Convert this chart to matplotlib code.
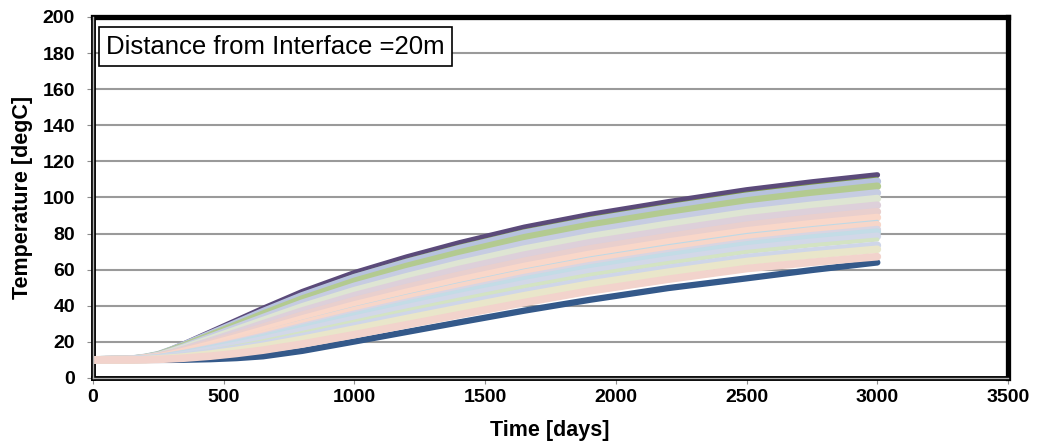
import matplotlib.pyplot as plt
import numpy as np

plt.rcParams['font.family'] = ['Liberation Sans', 'DejaVu Sans']

# time axis shared by every run [days]
days = [0, 150, 200, 250, 300, 350, 450, 550, 650, 800, 1000, 1200, 1400, 1650, 1900, 2200, 2500, 2750, 3000]

# temperature runs [degC], top of the band first
run_top = [10, 10.5, 11.5, 13.1, 15.9, 19.0, 25.5, 32.0, 38.5, 47.8, 58.3, 67.0, 74.8, 83.5, 90.5, 97.6, 104.2, 108.6, 112.5]
run_96 = [10, 10.5, 11.4, 13.0, 15.7, 18.7, 25.0, 31.3, 37.6, 46.6, 56.9, 65.5, 73.2, 81.8, 88.8, 95.9, 102.5, 106.8, 110.7]
run_92 = [10, 10.5, 11.4, 12.9, 15.5, 18.4, 24.4, 30.5, 36.7, 45.5, 55.6, 64.0, 71.6, 80.2, 87.1, 94.2, 100.7, 105.0, 108.9]
run_86 = [10, 10.4, 11.3, 12.7, 15.2, 17.9, 23.6, 29.4, 35.3, 43.7, 53.5, 61.8, 69.2, 77.7, 84.6, 91.6, 98.1, 102.4, 106.2]
run_80 = [10, 10.4, 11.2, 12.5, 14.8, 17.4, 22.8, 28.3, 33.9, 42.0, 51.4, 59.5, 66.8, 75.2, 82.0, 89.0, 95.5, 99.7, 103.4]
run_78 = [10, 10.4, 11.2, 12.5, 14.7, 17.2, 22.6, 28.0, 33.4, 41.4, 50.8, 58.8, 66.0, 74.3, 81.2, 88.2, 94.6, 98.8, 102.5]
run_71 = [10, 10.4, 11.1, 12.3, 14.4, 16.7, 21.6, 26.7, 31.8, 39.4, 48.4, 56.1, 63.3, 71.4, 78.2, 85.2, 91.6, 95.7, 99.4]
run_63 = [10, 10.3, 11.0, 12.1, 13.9, 16.0, 20.5, 25.2, 30.0, 37.1, 45.6, 53.1, 60.1, 68.1, 74.9, 81.7, 88.1, 92.1, 95.7]
run_55 = [10, 10.3, 10.9, 11.8, 13.5, 15.4, 19.5, 23.7, 28.1, 34.8, 42.9, 50.1, 56.9, 64.7, 71.5, 78.3, 84.6, 88.6, 92.1]
run_48 = [10, 10.2, 10.8, 11.6, 13.1, 14.8, 18.5, 22.4, 26.5, 32.7, 40.5, 47.5, 54.1, 61.8, 68.5, 75.3, 81.5, 85.5, 88.9]
run_43 = [10, 10.2, 10.7, 11.5, 12.9, 14.4, 17.9, 21.5, 25.3, 31.3, 38.8, 45.6, 52.1, 59.7, 66.4, 73.2, 79.4, 83.2, 86.7]
run_39 = [10, 10.2, 10.7, 11.4, 12.7, 14.1, 17.3, 20.8, 24.4, 30.1, 37.4, 44.1, 50.5, 58.1, 64.7, 71.4, 77.6, 81.5, 84.9]
run_33 = [10, 10.2, 10.6, 11.2, 12.4, 13.6, 16.5, 19.7, 23.0, 28.4, 35.3, 41.9, 48.1, 55.6, 62.2, 68.9, 75.0, 78.8, 82.2]
run_30 = [10, 10.2, 10.5, 11.1, 12.2, 13.4, 16.1, 19.1, 22.3, 27.5, 34.3, 40.8, 46.9, 54.3, 60.9, 67.6, 73.7, 77.5, 80.8]
run_25 = [10, 10.1, 10.5, 11.0, 11.9, 13.0, 15.5, 18.2, 21.2, 26.1, 32.6, 38.9, 45.0, 52.2, 58.8, 65.4, 71.5, 75.2, 78.5]
run_21 = [10, 10.1, 10.4, 10.9, 11.7, 12.7, 14.9, 17.5, 20.3, 24.9, 31.2, 37.4, 43.4, 50.6, 57.1, 63.7, 69.8, 73.5, 76.7]
run_14 = [10, 10.1, 10.3, 10.7, 11.3, 12.1, 14.0, 16.2, 18.6, 22.9, 28.8, 34.8, 40.6, 47.6, 54.1, 60.7, 66.7, 70.3, 73.5]
run_09 = [10, 10.0, 10.2, 10.6, 11.1, 11.7, 13.3, 15.3, 17.5, 21.4, 27.1, 32.9, 38.6, 45.6, 52.0, 58.6, 64.5, 68.1, 71.3]
run_low = [10, 10.0, 10.1, 10.3, 10.6, 11.0, 12.1, 13.6, 15.4, 18.8, 24.0, 29.5, 35.0, 41.8, 48.2, 54.7, 60.6, 64.1, 67.2]
run_base = [10, 10.0, 10.0, 10.0, 10.0, 10.1, 10.4, 11.0, 12.0, 15.0, 20.2, 25.5, 30.8, 37.3, 43.3, 49.8, 55.2, 59.8, 64.0]

# (series, colour, width) for the pastel band, top down
band = [
    (run_96, '#7a9442', 2.0),
    (run_92, '#b7c2de', 5.5),
    (run_86, '#b3ca90', 5.5),
    (run_80, '#d9908e', 2.0),
    (run_78, '#c6cce2', 5.5),
    (run_71, '#dee5d3', 5.5),
    (run_63, '#ddd0da', 5.5),
    (run_55, '#e9cfcd', 5.5),
    (run_48, '#f9d7c9', 5.5),
    (run_43, '#bed9e6', 2.5),
    (run_39, '#f7d6c9', 5.5),
    (run_33, '#d8d5e2', 5.5),
    (run_30, '#c3dce6', 5.5),
    (run_25, '#d2d8e8', 5.5),
    (run_21, '#d3e3c3', 3.0),
    (run_14, '#cfd6e8', 5.5),
    (run_09, '#e9e6ca', 5.5),
    (run_low, '#f2d3cc', 5.5),
]

fig = plt.figure(figsize=(10.37, 4.47), dpi=100)
ax = fig.add_axes([0.0897, 0.1544, 0.8824, 0.8076])

style = dict(solid_capstyle='round', solid_joinstyle='round', zorder=3)
ax.plot(days, run_base, color='#34598a', lw=4.5, **style)
ax.plot(days, run_top, color='#5b4a7a', lw=4.0, **style)
for vals, col, w in band:
    ax.plot(days, vals, color=col, lw=w, **style)

ax.set_xlim(0, 3500)
ax.set_ylim(0, 200)
ax.set_xticks(np.arange(0, 3501, 500))
ax.set_yticks(np.arange(0, 201, 20))
ax.yaxis.grid(True, color='#9a9a9a', lw=1.5, zorder=0)
ax.set_axisbelow(True)

for lab in ax.get_xticklabels() + ax.get_yticklabels():
    lab.set_fontweight('bold')
ax.tick_params(axis='both', labelsize=14, length=4, color='#8c8c8c')
ax.tick_params(axis='y', pad=9)
ax.tick_params(axis='x', pad=4)
ax.set_xlabel('Time [days]', fontsize=15.5, fontweight='bold', va='top')
ax.set_ylabel('Temperature [degC]', fontsize=15.5, fontweight='bold', va='center')
ax.xaxis.set_label_coords(0.4995, -0.117)
ax.yaxis.set_label_coords(-0.0776, 0.5)

for side in ['top', 'right']:
    ax.spines[side].set_linewidth(3.8)
    ax.spines[side].set_color('black')
for side in ['left', 'bottom']:
    ax.spines[side].set_linewidth(3.5)
    ax.spines[side].set_color('black')
# inner grey stripe to give the double-line frame
ax.plot([0, 0], [0, 1], transform=ax.transAxes, color='#b0b0b0', lw=1.0, clip_on=False, zorder=6)
ax.plot([0, 1], [0, 0], transform=ax.transAxes, color='#b0b0b0', lw=1.0, clip_on=False, zorder=6)

ax.text(0.0142, 0.918, 'Distance from Interface =20m', transform=ax.transAxes,
        fontsize=18.5, va='center', ha='left', zorder=7,
        bbox=dict(boxstyle='square,pad=0.28', fc='white', ec='black', lw=1.2))

fig.savefig('out.png', dpi=100)
